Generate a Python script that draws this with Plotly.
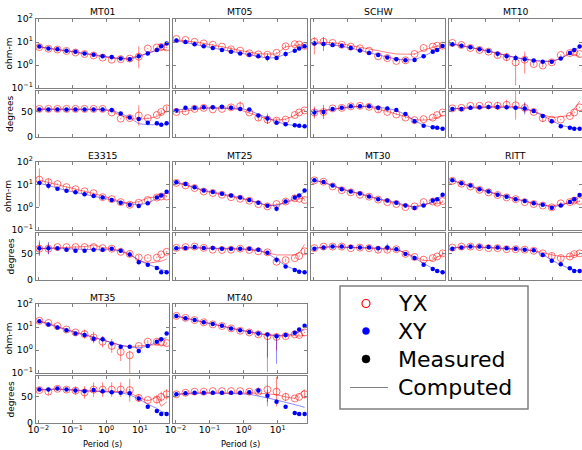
import plotly.graph_objects as go

W, H = 582, 450
FONT = "DejaVu Sans"
FRAME = "#808080"

PERIODS = [0.0107, 0.0198, 0.0366, 0.0678, 0.125, 0.232, 0.429, 0.793,
           1.47, 2.71, 5.01, 9.27, 17.1, 31.7, 42.7, 61.7]
STATIONS = ["MT01", "MT05", "SCHW", "MT10", "E3315", "MT25", "MT30", "RITT", "MT35", "MT40"]
X_TICKS = [0.01, 0.1, 1, 10]
X_TICKTEXT = ["10<sup>\u22122</sup>", "10<sup>\u22121</sup>", "10<sup>0</sup>", "10<sup>1</sup>"]
RHO_TICKS = [0.1, 1, 10, 100]
RHO_TICKTEXT = ["10<sup>\u22121</sup>", "10<sup>0</sup>", "10<sup>1</sup>", "10<sup>2</sup>"]
PH_TICKS = [0, 50]
LEGEND_LABELS = ["YX", "XY", "Measured", "Computed"]

# ---------------- MT01
MT01_RHO_XY = [6.3, 5.2, 4.8, 4.2, 3.8, 3.2, 2.8, 2.4, 2.2, 1.9, 1.8, 2.4, 3.2, 4.5, 6.5, 8.5]
MT01_RHO_YX = [6.0, 5.1, 4.7, 4.1, 3.5, 3.0, 2.6, 2.1, 1.7, 1.8, 1.9, 2.3, 5.2, 5.8, 6.1, 5.8]
MT01_RHO_XY_C = [6.2, 5.3, 4.7, 4.2, 3.7, 3.2, 2.8, 2.4, 2.1, 1.9, 1.8, 2.3, 3.2, 4.5, 6.0, 8.0]
MT01_RHO_YX_C = [6.1, 5.2, 4.6, 4.1, 3.6, 3.1, 2.7, 2.3, 2.0, 1.9, 2.0, 2.5, 3.4, 4.3, 4.6, 4.7]
MT01_PH_XY = [54, 54, 54, 54, 54, 54, 54, 54, 53, 46, 38, 35, 28, 27, 24, 27]
MT01_PH_YX = [55, 55, 55, 55, 55, 55, 55, 55, 48, 36, 37, 42, 37, 43, 49, 56]
MT01_PH_XY_C = [54, 54, 54, 54, 54, 54, 54, 54, 52, 46, 38, 26, 24, 24, 24, 24]
MT01_PH_YX_C = [55, 55, 55, 55, 55, 55, 55, 54, 50, 42, 36, 35, 36, 40, 45, 50]
MT01_RHO_XY_ERR = {}
MT01_RHO_YX_ERR = {11: (0.5, 0.45)}
MT01_PH_XY_ERR = {15: 4}
MT01_PH_YX_ERR = {11: 20, 14: 4, 15: 5}

# ---------------- MT05
MT05_RHO_XY = [11.5, 10, 7.9, 6.5, 5.5, 4.5, 3.8, 3.2, 2.8, 2.4, 2.0, 2.0, 3.0, 4.2, 5.2, 6.5]
MT05_RHO_YX = [13.5, 12.3, 10.2, 8.7, 7.6, 6.3, 4.8, 4.2, 3.2, 2.9, 2.8, 3.4, 6.5, 8.0, 7.8, 6.8]
MT05_RHO_XY_C = [11.5, 9.8, 8.0, 6.6, 5.5, 4.6, 3.8, 3.2, 2.7, 2.3, 2.0, 2.1, 3.0, 4.2, 5.2, 6.3]
MT05_RHO_YX_C = [12.5, 11.5, 10, 8.7, 7.5, 6.3, 5.2, 4.3, 3.6, 3.1, 3.0, 3.0, 6.2, 7.3, 7.4, 7.2]
MT05_PH_XY = [52, 57, 57, 58, 58, 59, 57, 55, 54, 42, 36, 28, 25, 23, 22, 21]
MT05_PH_YX = [49, 50, 55, 57, 54, 55, 58, 60, 48, 38, 34, 32, 34, 43, 48, 52]
MT05_PH_XY_C = [53, 55, 56, 57, 57, 57, 57, 56, 52, 45, 37, 30, 25, 22, 21, 20]
MT05_PH_YX_C = [48, 51, 54, 56, 57, 57, 56, 53, 47, 40, 35, 33, 35, 42, 48, 55]
MT05_RHO_XY_ERR = {10: (0.15, 0.15), 12: (0.12, 0.12)}
MT05_RHO_YX_ERR = {6: (0.1, 0.1), 10: (0.08, 0.08), 12: (0.08, 0.08)}
MT05_PH_XY_ERR = {1: 4, 10: 10}
MT05_PH_YX_ERR = {6: 5, 7: 10, 9: 6, 10: 8, 11: 5}

# ---------------- SCHW
SCHW_RHO_XY = [8.7, 8.1, 7.4, 6.9, 5.5, 4.3, 3.3, 2.7, 2.1, 1.8, 1.6, 1.65, 2.4, 3.8, 4.5, 6.7]
SCHW_RHO_YX = [10.3, 10.3, 9.1, 7.6, 6.3, 5.3, 4.2, 2.4, 2.0, 1.5, 1.6, 3.0, 5.5, 6.3, 6.9, 6.9]
SCHW_RHO_XY_C = [8.8, 8.3, 7.5, 6.6, 5.5, 4.4, 3.4, 2.7, 2.2, 1.8, 1.65, 1.7, 2.4, 3.7, 4.7, 6.3]
SCHW_RHO_YX_C = [10, 10, 9.3, 8.3, 7.1, 6.0, 5.0, 4.2, 3.5, 3.0, 2.95, 3.0, 4.5, 6.0, 6.6, 6.9]
SCHW_PH_XY = [48, 49, 55, 57, 60, 60, 60, 57, 56, 53, 45, 31, 22, 19, 18, 16]
SCHW_PH_YX = [48, 49, 56, 57, 60, 61, 59, 54, 49, 44, 38, 33, 35, 38, 43, 48]
SCHW_PH_XY_C = [50, 52, 55, 57, 59, 60, 60, 58, 56, 52, 44, 32, 23, 19, 17, 16]
SCHW_PH_YX_C = [49, 52, 55, 57, 59, 60, 59, 55, 50, 45, 40, 34, 33, 35, 38, 42]
SCHW_RHO_XY_ERR = {0: (0.1, 0.1), 1: (0.3, 0.3), 7: (0.05, 0.05)}
SCHW_RHO_YX_ERR = {0: (0.55, 0.2), 1: (0.1, 0.1)}
SCHW_PH_XY_ERR = {0: 8, 1: 14}
SCHW_PH_YX_ERR = {0: 12, 1: 6, 7: 6}

# ---------------- MT10
MT10_RHO_XY = [7.9, 6.9, 5.9, 4.8, 4.1, 3.1, 2.4, 2.0, 1.8, 1.55, 1.4, 1.4, 1.9, 3.3, 4.5, 6.3]
MT10_RHO_YX = [9.1, 7.4, 5.5, 4.5, 3.8, 2.7, 2.2, 1.3, 1.7, 1.1, 0.95, 1.3, 2.7, 3.3, 3.6, 3.0]
MT10_RHO_XY_C = [8.0, 6.9, 5.9, 4.9, 4.1, 3.2, 2.5, 2.1, 1.8, 1.6, 1.45, 1.45, 1.9, 3.2, 4.5, 6.0]
MT10_RHO_YX_C = [8.5, 7.2, 5.8, 4.8, 3.9, 3.1, 2.5, 2.1, 1.8, 1.55, 1.45, 1.45, 1.9, 3.3, 2.9, 2.3]
MT10_PH_XY = [55, 55, 57, 58, 58.5, 58.5, 58, 57, 56, 51, 41, 31, 21, 18, 16, 16]
MT10_PH_YX = [56, 57, 61, 61, 62, 61, 63, 62, 57, 49, 37, 34, 34, 41, 48, 58]
MT10_PH_XY_C = [55, 56, 57, 58, 58, 58, 58, 57, 55, 50, 42, 32, 23, 19, 17, 16]
MT10_PH_YX_C = [55, 57, 58, 59, 60, 60, 60, 59, 56, 50, 43, 38, 40, 42, 55, 70]
MT10_RHO_XY_ERR = {7: (0.15, 0.15), 13: (0.05, 0.05)}
MT10_RHO_YX_ERR = {5: (0.12, 0.12), 6: (0.18, 0.18), 7: (1.0, 0.3), 8: (0.6, 0.35),
                   9: (0.08, 0.08), 10: (0.08, 0.08)}
MT10_PH_XY_ERR = {4: 4, 8: 12}
MT10_PH_YX_ERR = {5: 8, 6: 10, 7: 28, 8: 10, 10: 8}

# ---------------- E3315
E3315_RHO_XY = [11.7, 8.9, 6.6, 5.4, 4.6, 3.8, 3.2, 2.7, 2.1, 1.6, 1.3, 1.15, 1.5, 2.7, 3.3, 4.9]
E3315_RHO_YX = [16.6, 12.9, 10.6, 7.8, 6.3, 5.1, 4.2, 2.8, 2.3, 1.7, 1.3, 1.6, 2.1, 2.7, 3.0, 3.0]
E3315_RHO_XY_C = [11.7, 8.9, 6.8, 5.5, 4.6, 3.8, 3.2, 2.7, 2.1, 1.66, 1.38, 1.35, 1.5, 2.5, 3.3, 4.5]
E3315_RHO_YX_C = [15.8, 12.6, 10, 7.9, 6.3, 5.2, 4.3, 3.2, 2.4, 1.8, 1.5, 1.8, 2.6, 3.0, 3.2, 3.3]
E3315_PH_XY = [61, 61, 61, 58, 56, 56, 58, 58, 60, 56, 49, 34, 29, 23, 15, 15]
E3315_PH_YX = [60, 60, 63, 63, 63, 63, 63, 61, 60, 54, 50, 43, 42, 43, 49, 54]
E3315_PH_XY_C = [60, 61, 61, 60, 59, 58, 58, 58, 58, 56, 50, 38, 30, 24, 20, 17]
E3315_PH_YX_C = [60, 61, 62, 62, 63, 64, 67, 62, 60, 55, 48, 38, 32, 34, 36, 40]
E3315_RHO_XY_ERR = {1: (0.15, 0.15), 10: (0.1, 0.1), 11: (0.1, 0.1)}
E3315_RHO_YX_ERR = {0: (1.18, 0.5), 1: (0.15, 0.15), 9: (0.06, 0.06), 10: (0.06, 0.06)}
E3315_PH_XY_ERR = {0: 15, 1: 12, 11: 4}
E3315_PH_YX_ERR = {0: 12, 1: 10, 10: 6, 11: 5}

# ---------------- MT25
MT25_RHO_XY = [12.9, 10.6, 7.6, 5.5, 4.7, 4.0, 3.3, 2.7, 2.1, 1.6, 1.17, 0.86, 1.8, 2.7, 3.3, 5.5]
MT25_RHO_YX = [12, 9.3, 7.1, 5.0, 4.3, 3.6, 2.8, 2.4, 1.96, 1.38, 1.1, 1.4, 1.8, 2.5, 2.4, 2.1]
MT25_RHO_XY_C = [12.5, 10.3, 7.6, 5.6, 4.7, 4.0, 3.3, 2.7, 2.1, 1.6, 1.2, 1.2, 1.6, 2.6, 3.4, 4.8]
MT25_RHO_YX_C = [12, 9.5, 7.3, 5.3, 4.4, 3.7, 3.0, 2.5, 2.0, 1.55, 1.2, 1.3, 1.7, 2.2, 2.4, 2.5]
MT25_PH_XY = [61, 61.5, 63, 61.5, 61.5, 60, 60, 60, 60, 58, 52, 39, 26, 19, 16, 15]
MT25_PH_YX = [61.5, 63, 64, 61.5, 58, 57.5, 58, 60, 57.5, 55, 53, 35, 38, 42, 46, 55]
MT25_PH_XY_C = [61, 62, 62, 61, 61, 60, 60, 60, 59, 57, 51, 40, 27, 21, 17, 15]
MT25_PH_YX_C = [61, 62, 62, 61, 60, 59, 59, 59, 58, 56, 52, 48, 48, 48, 52, 68]
MT25_RHO_XY_ERR = {11: (0.12, 0.12)}
MT25_RHO_YX_ERR = {10: (0.05, 0.05), 12: (0.06, 0.06)}
MT25_PH_XY_ERR = {11: 6}
MT25_PH_YX_ERR = {12: 3, 15: 4}

# ---------------- MT30
MT30_RHO_XY = [15.5, 13, 9.1, 6.3, 5.0, 4.1, 3.0, 2.3, 2.0, 1.6, 1.2, 0.93, 1.2, 2.0, 2.3, 3.6]
MT30_RHO_YX = [15.5, 13.5, 8.3, 5.7, 4.6, 3.6, 2.95, 2.2, 1.7, 1.4, 1.02, 1.1, 1.7, 1.8, 1.6, 1.9]
MT30_RHO_XY_C = [15.5, 12.5, 9.1, 6.5, 5.0, 4.1, 3.1, 2.4, 2.0, 1.6, 1.25, 1.0, 1.2, 1.8, 2.4, 3.3]
MT30_RHO_YX_C = [15, 13, 9, 6.2, 4.9, 3.9, 3.0, 2.3, 1.8, 1.45, 1.15, 1.1, 1.35, 1.6, 1.4, 1.7]
MT30_PH_XY = [60, 62, 64, 64, 63, 62, 62, 61, 62, 59, 50, 42, 29, 21, 17, 15]
MT30_PH_YX = [61, 64, 64, 64, 61, 62, 61, 58, 58, 59, 50, 44, 39, 42, 45, 51]
MT30_PH_XY_C = [61, 63, 64, 63, 62, 62, 62, 61, 61, 59, 52, 42, 31, 22, 18, 15]
MT30_PH_YX_C = [61, 63, 64, 63, 62, 62, 61, 60, 59, 58, 52, 44, 37, 38, 44, 48]
MT30_RHO_XY_ERR = {4: (0.05, 0.05), 7: (0.06, 0.06)}
MT30_RHO_YX_ERR = {}
MT30_PH_XY_ERR = {8: 8}
MT30_PH_YX_ERR = {5: 4, 7: 5, 15: 4}

# ---------------- RITT
RITT_RHO_XY = [15.5, 11.5, 9.1, 6.3, 5.0, 3.6, 2.95, 2.3, 1.9, 1.5, 1.3, 0.95, 1.2, 1.7, 2.3, 3.5]
RITT_RHO_YX = [14.8, 11, 8.3, 5.9, 4.6, 3.5, 2.75, 2.3, 1.7, 1.4, 1.2, 1.0, 1.5, 1.7, 2.0, 1.9]
RITT_RHO_XY_C = [15.5, 11.5, 9.0, 6.3, 5.0, 3.7, 2.95, 2.35, 1.9, 1.5, 1.25, 1.05, 1.2, 1.7, 2.3, 3.4]
RITT_RHO_YX_C = [15, 11.5, 8.5, 6.1, 4.8, 3.6, 2.85, 2.3, 1.8, 1.45, 1.25, 1.15, 1.35, 1.55, 1.7, 1.8]
RITT_PH_XY = [60, 62, 64, 64, 63, 62, 61, 60, 58, 57, 48, 37, 30, 22.5, 17, 17]
RITT_PH_YX = [62, 64, 64, 63, 61, 61, 59, 59, 58, 56, 51, 46, 42, 45, 49.5, 51]
RITT_PH_XY_C = [61, 63, 64, 63, 62, 62, 61, 60, 59, 56, 49, 38, 29, 22, 19, 17]
RITT_PH_YX_C = [62, 63, 64, 63, 62, 61, 60, 59, 58, 56, 53, 48, 45, 45, 47, 49]
RITT_RHO_XY_ERR = {}
RITT_RHO_YX_ERR = {12: (0.06, 0.06), 14: (0.06, 0.06)}
RITT_PH_XY_ERR = {7: 3}
RITT_PH_YX_ERR = {11: 6, 12: 5, 13: 4, 14: 4}

# ---------------- MT35
MT35_RHO_XY = [18, 13, 9.6, 7.3, 5.2, 4.5, 3.1, 2.9, 1.9, 1.4, 1.4, 0.9, 1.5, 2.3, 2.9, 5.2]
MT35_RHO_YX = [18.6, 15, 11, 7.8, 5.8, 4.9, 3.5, 2.3, 1.5, 0.83, 0.59, 1.5, 2.3, 2.3, 2.3, 2.0]
MT35_RHO_XY_C = [17.5, 13, 9.8, 7.5, 5.6, 4.5, 3.5, 2.8, 2.1, 1.6, 1.35, 1.25, 1.45, 2.1, 2.7, 3.5]
MT35_RHO_YX_C = [18, 14.5, 10.5, 7.8, 6.0, 4.8, 3.7, 2.8, 2.1, 1.6, 1.4, 1.45, 1.6, 1.7, 1.5, 1.7]
MT35_PH_XY = [64, 64, 66, 64, 62, 61, 63, 61, 59, 58, 57, 47, 31, 23, 17, 17]
MT35_PH_YX = [63, 60, 65.5, 64, 62, 58.5, 64, 64, 64, 64, 63, 48, 44, 45, 50, 55]
MT35_PH_XY_C = [64, 65, 65, 64, 63, 62, 61, 60, 59, 58, 54, 46, 36, 28, 22, 19]
MT35_PH_YX_C = [63, 64, 65, 64, 62, 61, 61, 61, 61, 60, 58, 49, 42, 50, 32, 40]
MT35_RHO_XY_ERR = {6: (0.15, 0.15), 7: (0.12, 0.12), 11: (0.1, 0.1)}
MT35_RHO_YX_ERR = {5: (0.2, 0.2), 6: (0.25, 0.25), 7: (0.25, 0.25), 8: (0.3, 0.3),
                   9: (0.4, 0.25), 10: (0.85, 0.2), 12: (0.08, 0.08)}
MT35_PH_XY_ERR = {10: 8}
MT35_PH_YX_ERR = {1: 6, 4: 8, 5: 12, 6: 14, 7: 14, 8: 14, 9: 14, 10: 22, 11: 8,
                  13: 8, 14: 10, 15: 10}

# ---------------- MT40
MT40_RHO_XY = [30, 24, 20, 16, 13.4, 11.3, 8.7, 7.3, 6.1, 5.2, 4.7, 4.0, 4.5, 5.6, 7.8, 11.3]
MT40_RHO_YX = [30.5, 25, 20, 16, 13, 11, 8.7, 6.9, 5.8, 4.8, 4.0, 3.7, 4.0, 4.8, 4.5, 5.8]
MT40_RHO_XY_C = [30, 24, 20, 16, 13.4, 11.2, 8.8, 7.2, 6.1, 5.2, 4.6, 4.3, 4.4, 5.0, 6.0, 7.5]
MT40_RHO_YX_C = [30, 24.5, 20, 16, 13, 11, 8.8, 7.0, 5.9, 5.0, 4.5, 4.2, 4.0, 4.3, 4.0, 4.3]
MT40_PH_XY = [55, 57, 58, 58, 58, 58, 58, 58, 59, 62, 52, 40.5, 31, 19, 17, 17]
MT40_PH_YX = [55, 58, 60, 60, 61, 61, 61, 61, 60, 60, 64, 60, 50, 47, 50, 55]
MT40_PH_XY_C = [55, 56, 57, 57, 57, 57, 57, 56, 55, 52, 48, 44, 40, 36, 33, 30]
MT40_PH_YX_C = [55, 57, 58, 58, 58, 58, 58, 58, 58, 57, 56, 54, 50, 47, 55, 64]
MT40_RHO_XY_ERR = {10: (1.0, 0.05), 11: (1.2, 0.05)}
MT40_RHO_YX_ERR = {9: (0.1, 0.1), 10: (1.55, 0.15), 11: (0.6, 0.15), 12: (0.1, 0.1)}
MT40_PH_XY_ERR = {9: 6, 10: 12}
MT40_PH_YX_ERR = {10: 32, 11: 28, 12: 8, 15: 8}

DEFAULT_RHO_ERR = 0.03   # decades
DEFAULT_PH_ERR = 1.5     # degrees

# ---------------- styling / layout (pixel positions of panels)
COL_X = [(36, 169), (173, 307), (311, 445), (449, 582)]
ROW_Y = [((19, 88), (91, 137)), ((162, 230), (233, 280)), ((304, 373), (376, 423))]
RED_M = "rgba(255,0,0,0.55)"
RED_L = "rgba(255,0,0,0.5)"
BLUE_M = "#0000ff"
BLUE_L = "rgba(0,0,255,0.45)"


def px_x(p):
    return p / W


def px_y(p):
    return 1 - p / H


def rho_err(vals, spec):
    up, dn = [], []
    for i, v in enumerate(vals):
        lo, hi = spec.get(i, (DEFAULT_RHO_ERR, DEFAULT_RHO_ERR))
        up.append(v * (10 ** hi - 1))
        dn.append(v * (1 - 10 ** (-lo)))
    return up, dn


def ph_err(vals, spec):
    return [spec.get(i, DEFAULT_PH_ERR) for i in range(len(vals))]


def station_data(name):
    g = globals()
    keys = ["RHO_XY", "RHO_YX", "RHO_XY_C", "RHO_YX_C", "PH_XY", "PH_YX", "PH_XY_C",
            "PH_YX_C", "RHO_XY_ERR", "RHO_YX_ERR", "PH_XY_ERR", "PH_YX_ERR"]
    return {k: g[f"{name}_{k}"] for k in keys}


fig = go.Figure()

axis_common = dict(showline=True, linecolor=FRAME, linewidth=1.3, mirror="allticks",
                   ticks="inside", ticklen=3, tickwidth=1, tickcolor=FRAME,
                   showgrid=False, zeroline=False, automargin=False,
                   tickfont=dict(size=9.3, family=FONT, color="black"))
annotations = []
shapes = []
layout_axes = {}

for i, name in enumerate(STATIONS):
    d = station_data(name)
    r, c = divmod(i, 4)
    x0, x1 = COL_X[c]
    (ry0, ry1), (py0, py1) = ROW_Y[r]
    na, nb = 2 * i + 1, 2 * i + 2
    xa = "x" if na == 1 else f"x{na}"
    ya = "y" if na == 1 else f"y{na}"
    xb, yb = f"x{nb}", f"y{nb}"
    bottom = r == 2
    left = c == 0

    # rho axes
    layout_axes["xaxis" if na == 1 else f"xaxis{na}"] = dict(
        axis_common, type="log", range=[-2.07, 1.86], domain=[px_x(x0), px_x(x1)],
        anchor=ya, tickvals=X_TICKS, ticktext=X_TICKTEXT, showticklabels=False)
    layout_axes["yaxis" if na == 1 else f"yaxis{na}"] = dict(
        axis_common, type="log", range=[-1, 2], domain=[px_y(ry1), px_y(ry0)],
        anchor=xa, tickvals=RHO_TICKS, ticktext=RHO_TICKTEXT, showticklabels=left)
    # phase axes
    layout_axes[f"xaxis{nb}"] = dict(
        axis_common, type="log", range=[-2.07, 1.86], domain=[px_x(x0), px_x(x1)],
        anchor=yb, tickvals=X_TICKS, ticktext=X_TICKTEXT, showticklabels=bottom,
        ticklabelstandoff=-2)
    layout_axes[f"yaxis{nb}"] = dict(
        axis_common, range=[0, 90], domain=[px_y(py1), px_y(py0)],
        anchor=xb, tickvals=PH_TICKS, showticklabels=left)

    # computed curves
    fig.add_trace(go.Scatter(x=PERIODS, y=d["RHO_YX_C"], mode="lines", xaxis=xa, yaxis=ya,
                             line=dict(color=RED_L, width=1), showlegend=False))
    fig.add_trace(go.Scatter(x=PERIODS, y=d["RHO_XY_C"], mode="lines", xaxis=xa, yaxis=ya,
                             line=dict(color=BLUE_L, width=1), showlegend=False))
    fig.add_trace(go.Scatter(x=PERIODS, y=d["PH_YX_C"], mode="lines", xaxis=xb, yaxis=yb,
                             line=dict(color=RED_L, width=1), showlegend=False))
    fig.add_trace(go.Scatter(x=PERIODS, y=d["PH_XY_C"], mode="lines", xaxis=xb, yaxis=yb,
                             line=dict(color=BLUE_L, width=1), showlegend=False))

    # measured rho
    up, dn = rho_err(d["RHO_YX"], d["RHO_YX_ERR"])
    fig.add_trace(go.Scatter(x=PERIODS, y=d["RHO_YX"], mode="markers", xaxis=xa, yaxis=ya,
                             marker=dict(symbol="circle-open", color=RED_M, size=7, line=dict(width=1)),
                             error_y=dict(type="data", array=up, arrayminus=dn, color=RED_L,
                                          thickness=1, width=0),
                             showlegend=False))
    up, dn = rho_err(d["RHO_XY"], d["RHO_XY_ERR"])
    fig.add_trace(go.Scatter(x=PERIODS, y=d["RHO_XY"], mode="markers", xaxis=xa, yaxis=ya,
                             marker=dict(symbol="circle", color=BLUE_M, size=4.5),
                             error_y=dict(type="data", array=up, arrayminus=dn, color=BLUE_L,
                                          thickness=1, width=0),
                             showlegend=False))
    # measured phase
    e = ph_err(d["PH_YX"], d["PH_YX_ERR"])
    fig.add_trace(go.Scatter(x=PERIODS, y=d["PH_YX"], mode="markers", xaxis=xb, yaxis=yb,
                             marker=dict(symbol="circle-open", color=RED_M, size=7, line=dict(width=1)),
                             error_y=dict(type="data", array=e, color=RED_L, thickness=1, width=0),
                             showlegend=False))
    e = ph_err(d["PH_XY"], d["PH_XY_ERR"])
    fig.add_trace(go.Scatter(x=PERIODS, y=d["PH_XY"], mode="markers", xaxis=xb, yaxis=yb,
                             marker=dict(symbol="circle", color=BLUE_M, size=4.5),
                             error_y=dict(type="data", array=e, color=BLUE_L, thickness=1, width=0),
                             showlegend=False))

    # station title
    annotations.append(dict(text=name, x=px_x((x0 + x1) / 2), y=px_y(ry0 - 7),
                            xref="paper", yref="paper", showarrow=False, borderpad=0,
                            xanchor="center", yanchor="middle",
                            font=dict(size=9.3, family=FONT, color="black")))
    if left:
        annotations.append(dict(text="ohm-m", x=px_x(8), y=px_y((ry0 + ry1) / 2),
                                xref="paper", yref="paper", showarrow=False, textangle=-90,
                                xanchor="center", yanchor="middle", borderpad=0,
                                font=dict(size=9, family=FONT, color="black")))
        annotations.append(dict(text="degrees", x=px_x(10), y=px_y((py0 + py1) / 2),
                                xref="paper", yref="paper", showarrow=False, textangle=-90,
                                xanchor="center", yanchor="middle", borderpad=0,
                                font=dict(size=9, family=FONT, color="black")))
    if bottom:
        annotations.append(dict(text="Period (s)", x=px_x((x0 + x1) / 2), y=px_y(443.5),
                                xref="paper", yref="paper", showarrow=False, borderpad=0,
                                xanchor="center", yanchor="middle",
                                font=dict(size=8.3, family=FONT, color="black")))

# ---------------- legend box (drawn by hand to match the original spacing)
LEG_BOX = (340, 286, 528, 409)
LEG_ROWS = [303.5, 331, 359, 387.5]
LEG_KEY_X = 366
LEG_TEXT_X = 397
shapes.append(dict(type="rect", xref="paper", yref="paper",
                   x0=px_x(LEG_BOX[0]), x1=px_x(LEG_BOX[2]),
                   y0=px_y(LEG_BOX[3]), y1=px_y(LEG_BOX[1]),
                   line=dict(color=FRAME, width=1.5), fillcolor="white", layer="above"))
key_styles = [
    dict(r=4.0, line=dict(color="red", width=1.2), fillcolor="rgba(0,0,0,0)"),
    dict(r=3.5, line=dict(color="blue", width=0.5), fillcolor="blue"),
    dict(r=4.0, line=dict(color="black", width=0.5), fillcolor="black"),
]
for k, yc in enumerate(LEG_ROWS):
    if k < 3:
        st = key_styles[k]
        shapes.append(dict(type="circle", xref="paper", yref="paper",
                           x0=px_x(LEG_KEY_X - st["r"]), x1=px_x(LEG_KEY_X + st["r"]),
                           y0=px_y(yc + st["r"]), y1=px_y(yc - st["r"]),
                           line=st["line"], fillcolor=st["fillcolor"], layer="above"))
    else:
        shapes.append(dict(type="line", xref="paper", yref="paper",
                           x0=px_x(350), x1=px_x(388), y0=px_y(yc), y1=px_y(yc),
                           line=dict(color=FRAME, width=1), layer="above"))
    annotations.append(dict(text=LEGEND_LABELS[k], x=px_x(LEG_TEXT_X), y=px_y(yc),
                            xref="paper", yref="paper", showarrow=False, borderpad=0,
                            xanchor="left", yanchor="middle",
                            font=dict(size=22, family=FONT, color="black")))

fig.update_layout(
    width=W, height=H, margin=dict(l=0, r=0, t=0, b=0, autoexpand=False),
    paper_bgcolor="white", plot_bgcolor="white",
    font=dict(family=FONT, color="black"),
    annotations=annotations, shapes=shapes,
    showlegend=False, hovermode=False,
    **layout_axes,
)

# the page's default body margin would shift the figure by 8 px; remove it
fig.write_html("out.html", config={"displayModeBar": False, "staticPlot": True},
               post_script="document.body.style.margin='0';document.body.style.overflow='hidden';")
